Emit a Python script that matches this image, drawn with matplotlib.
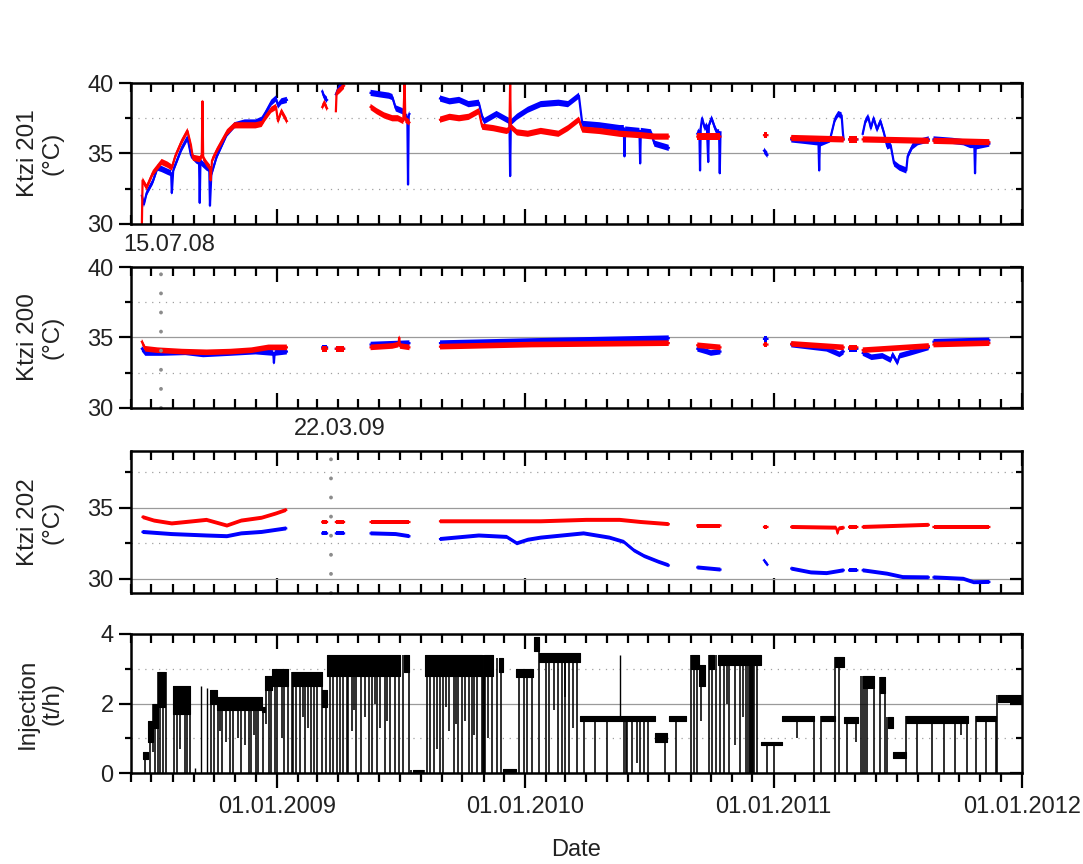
import numpy as np
import matplotlib
matplotlib.use("Agg")
import matplotlib.pyplot as plt
import matplotlib.dates as mdates
from matplotlib.ticker import FixedLocator

plt.rcParams['font.family'] = ['Liberation Sans', 'DejaVu Sans']
plt.rcParams['text.color'] = '#222222'
plt.rcParams['xtick.labelcolor'] = '#222222'
plt.rcParams['ytick.labelcolor'] = '#222222'

# ---------------- data ----------------
K201_RED = [
    ("2008-06-17", 30.0), ("2008-06-18", 33.1), ("2008-06-24", 32.6), ("2008-07-03", 33.6), ("2008-07-16", 34.4),
    ("2008-07-25", 34.2), ("2008-07-31", 34.0), ("2008-08-05", 34.8), ("2008-08-14", 35.8), ("2008-08-23", 36.6),
    ("2008-08-28", 35.6), ("2008-08-31", 34.7), ("2008-09-10", 34.6), ("2008-09-13", 34.8), ("2008-09-14", 38.7),
    ("2008-09-15", 34.7), ("2008-09-20", 34.3), ("2008-09-25", 34.0), ("2008-09-26", 33.1), ("2008-09-28", 34.5),
    ("2008-10-05", 35.2), ("2008-10-20", 36.5), ("2008-10-31", 37.0), ("2008-11-15", 37.0), ("2008-12-01", 37.0),
    ("2008-12-10", 37.1), ("2008-12-15", 37.5), ("2008-12-24", 38.1), ("2008-12-31", 38.3), ("2009-01-03", 37.3),
    ("2009-01-08", 38.0), ("2009-01-16", 37.3), None,
    ("2009-03-09", 38.3), ("2009-03-12", 38.6), ("2009-03-16", 38.2), None,
    ("2009-03-29", 38.0), ("2009-03-30", 39.3), ("2009-04-04", 39.5), ("2009-04-10", 39.8), None,
    ("2009-05-19", 38.3), ("2009-05-28", 38.0), ("2009-06-08", 37.7), ("2009-06-20", 37.5), ("2009-06-28", 37.5),
    ("2009-07-06", 37.3), ("2009-07-08", 40.0), ("2009-07-09", 37.4), ("2009-07-15", 37.2), None,
    ("2009-08-29", 37.4), ("2009-09-12", 37.6), ("2009-09-26", 37.5), ("2009-10-10", 37.6), ("2009-10-25", 38.0),
    ("2009-10-30", 36.9), ("2009-11-15", 36.8), ("2009-12-05", 36.6), ("2009-12-09", 36.7), ("2009-12-10", 40.0),
    ("2009-12-11", 36.9), ("2009-12-20", 36.5), ("2010-01-05", 36.4), ("2010-01-24", 36.6), ("2010-02-19", 36.4),
    ("2010-03-05", 36.8), ("2010-03-21", 37.4), ("2010-03-26", 36.7), ("2010-04-20", 36.6), ("2010-05-20", 36.4),
    ("2010-06-20", 36.3), ("2010-07-10", 36.2), ("2010-07-31", 36.2), None,
    ("2010-09-11", 36.2), ("2010-10-15", 36.2), None,
    ("2010-12-18", 36.3), ("2010-12-23", 36.3), None,
    ("2011-01-27", 36.1), ("2011-04-14", 36.0), None,
    ("2011-04-22", 36.0), ("2011-05-04", 36.0), None,
    ("2011-05-12", 36.0), ("2011-08-17", 35.9), None,
    ("2011-08-24", 35.9), ("2011-11-14", 35.8),
]
K201_BLUE = [
    ("2008-06-17", 32.0), ("2008-06-20", 31.4), ("2008-06-24", 32.2), ("2008-07-03", 33.0), ("2008-07-10", 34.0),
    ("2008-07-16", 33.9), ("2008-07-25", 33.7), ("2008-07-30", 33.6), ("2008-07-31", 32.2), ("2008-08-02", 33.8),
    ("2008-08-14", 35.3), ("2008-08-23", 36.1), ("2008-08-28", 34.9), ("2008-09-05", 34.5), ("2008-09-09", 34.4),
    ("2008-09-10", 31.5), ("2008-09-11", 34.4), ("2008-09-20", 34.0), ("2008-09-24", 33.9), ("2008-09-25", 31.3),
    ("2008-09-27", 33.5), ("2008-10-05", 34.8), ("2008-10-20", 36.4), ("2008-10-31", 37.0), ("2008-11-15", 37.2),
    ("2008-12-01", 37.2), ("2008-12-10", 37.4), ("2008-12-15", 37.8), ("2008-12-24", 38.6), ("2008-12-31", 38.9),
    ("2009-01-03", 38.4), ("2009-01-08", 38.7), ("2009-01-16", 38.8), None,
    ("2009-03-09", 39.4), ("2009-03-12", 39.0), ("2009-03-16", 38.8), None,
    ("2009-03-29", 39.2), ("2009-04-04", 39.8), ("2009-04-10", 40.0), None,
    ("2009-05-19", 39.3), ("2009-06-01", 39.2), ("2009-06-15", 39.1), ("2009-06-20", 39.0), ("2009-06-25", 38.2),
    ("2009-07-05", 38.0), ("2009-07-10", 37.6), ("2009-07-12", 37.6), ("2009-07-13", 32.8), ("2009-07-14", 37.7),
    ("2009-07-15", 37.8), None,
    ("2009-08-29", 38.9), ("2009-09-12", 38.7), ("2009-09-26", 38.8), ("2009-10-10", 38.5), ("2009-10-25", 38.6),
    ("2009-10-30", 37.6), ("2009-11-02", 37.3), ("2009-11-20", 37.8), ("2009-12-05", 37.4), ("2009-12-09", 37.3),
    ("2009-12-10", 33.4), ("2009-12-11", 37.2), ("2009-12-20", 37.6), ("2010-01-05", 38.1), ("2010-01-24", 38.5),
    ("2010-02-19", 38.6), ("2010-03-05", 38.5), ("2010-03-21", 39.1), ("2010-03-26", 37.1), ("2010-04-20", 37.0),
    ("2010-05-20", 36.8), ("2010-05-26", 36.8), ("2010-05-27", 34.8), ("2010-05-28", 36.7), ("2010-06-18", 36.6),
    ("2010-06-19", 34.3), ("2010-06-20", 36.6), ("2010-07-05", 36.5), ("2010-07-10", 35.7), ("2010-07-31", 35.4), None,
    ("2010-09-11", 36.4), ("2010-09-14", 36.6), ("2010-09-15", 33.8), ("2010-09-16", 36.8), ("2010-09-18", 37.5),
    ("2010-09-22", 36.8), ("2010-09-25", 37.0), ("2010-09-27", 34.4), ("2010-09-28", 37.0), ("2010-10-02", 37.5),
    ("2010-10-07", 36.8), ("2010-10-10", 36.5), ("2010-10-13", 36.5), ("2010-10-14", 33.6), ("2010-10-15", 36.5), None,
    ("2010-12-18", 35.2), ("2010-12-23", 34.9), None,
    ("2011-01-27", 36.0), ("2011-02-15", 35.9), ("2011-03-05", 35.8), ("2011-03-08", 35.8), ("2011-03-09", 33.8),
    ("2011-03-10", 35.7), ("2011-03-25", 36.0), ("2011-04-01", 37.4), ("2011-04-06", 37.8), ("2011-04-11", 37.7),
    ("2011-04-13", 36.4), ("2011-04-14", 36.0), None,
    ("2011-04-22", 36.0), ("2011-05-04", 36.0), None,
    ("2011-05-12", 36.4), ("2011-05-16", 37.3), ("2011-05-20", 37.6), ("2011-05-24", 36.8), ("2011-05-28", 37.5),
    ("2011-06-02", 36.7), ("2011-06-07", 37.3), ("2011-06-12", 36.5), ("2011-06-17", 35.5), ("2011-06-22", 35.6),
    ("2011-06-27", 34.3), ("2011-07-05", 34.0), ("2011-07-15", 33.8), ("2011-07-17", 34.8), ("2011-07-24", 35.5),
    ("2011-08-01", 35.8), ("2011-08-17", 36.0), None,
    ("2011-08-24", 36.0), ("2011-09-20", 35.9), ("2011-10-07", 35.8), ("2011-10-17", 35.6), ("2011-10-23", 35.6),
    ("2011-10-24", 33.6), ("2011-10-25", 35.5), ("2011-11-14", 35.7),
]
K200_RED = [
    ("2008-06-17", 34.7), ("2008-06-22", 34.2), ("2008-07-10", 34.1), ("2008-08-15", 34.0), ("2008-09-20", 33.95),
    ("2008-10-25", 34.0), ("2008-11-25", 34.1), ("2008-12-20", 34.3), ("2009-01-16", 34.3), None,
    ("2009-03-09", 34.2), ("2009-03-16", 34.2), None, ("2009-03-29", 34.2), ("2009-04-10", 34.2), None,
    ("2009-05-19", 34.3), ("2009-06-20", 34.4), ("2009-06-29", 34.5), ("2009-06-30", 35.0), ("2009-07-01", 34.4),
    ("2009-07-15", 34.3), None,
    ("2009-08-29", 34.35), ("2010-01-10", 34.5), ("2010-07-31", 34.6), None,
    ("2010-09-11", 34.45), ("2010-10-15", 34.3), None,
    ("2010-12-18", 34.5), ("2010-12-23", 34.5), None,
    ("2011-01-27", 34.55), ("2011-04-14", 34.3), None,
    ("2011-04-22", 34.3), ("2011-05-04", 34.3), None,
    ("2011-05-12", 34.1), ("2011-08-17", 34.4), None,
    ("2011-08-24", 34.5), ("2011-11-14", 34.6),
]
K200_BLUE = [
    ("2008-06-17", 34.2), ("2008-06-22", 33.9), ("2008-07-16", 33.9), ("2008-08-20", 33.95), ("2008-09-15", 33.8),
    ("2008-10-25", 33.9), ("2008-12-01", 34.0), ("2008-12-27", 33.9), ("2008-12-28", 33.2), ("2008-12-29", 33.9),
    ("2009-01-16", 34.0), None,
    ("2009-03-09", 34.3), ("2009-03-16", 34.3), None, ("2009-03-29", 34.2), ("2009-04-10", 34.2), None,
    ("2009-05-19", 34.5), ("2009-07-15", 34.6), None,
    ("2009-08-29", 34.6), ("2010-01-10", 34.75), ("2010-07-31", 34.95), None,
    ("2010-09-11", 34.2), ("2010-09-25", 34.0), ("2010-10-01", 33.9), ("2010-10-15", 34.0), None,
    ("2010-12-18", 34.9), ("2010-12-23", 34.9), None,
    ("2011-01-27", 34.5), ("2011-03-20", 34.2), ("2011-04-08", 33.8), ("2011-04-14", 34.0), None,
    ("2011-04-22", 34.2), ("2011-05-04", 34.2), None,
    ("2011-05-12", 33.9), ("2011-05-25", 33.6), ("2011-06-10", 33.7), ("2011-06-22", 33.4), ("2011-06-25", 33.8),
    ("2011-07-02", 33.2), ("2011-07-05", 33.7), ("2011-07-20", 33.9), ("2011-08-17", 34.3), None,
    ("2011-08-24", 34.7), ("2011-11-14", 34.8),
]
K202_RED = [
    ("2008-06-18", 34.35), ("2008-07-05", 34.1), ("2008-07-31", 33.9), ("2008-08-31", 34.05), ("2008-09-20", 34.15),
    ("2008-10-20", 33.75), ("2008-11-10", 34.1), ("2008-12-10", 34.3), ("2008-12-31", 34.6), ("2009-01-15", 34.85), None,
    ("2009-03-09", 34.0), ("2009-03-16", 34.0), None, ("2009-03-29", 34.0), ("2009-04-10", 34.0), None,
    ("2009-05-19", 34.0), ("2009-07-15", 34.0), None,
    ("2009-08-29", 34.05), ("2010-01-24", 34.05), ("2010-04-01", 34.15), ("2010-05-20", 34.15), ("2010-06-20", 34.0),
    ("2010-07-31", 33.85), None,
    ("2010-09-11", 33.75), ("2010-10-15", 33.75), None,
    ("2010-12-18", 33.65), ("2010-12-23", 33.65), None,
    ("2011-01-27", 33.65), ("2011-04-03", 33.6), ("2011-04-05", 33.2), ("2011-04-07", 33.55), ("2011-04-14", 33.6), None,
    ("2011-04-22", 33.65), ("2011-05-04", 33.65), None,
    ("2011-05-12", 33.65), ("2011-08-17", 33.8), None,
    ("2011-08-24", 33.65), ("2011-11-14", 33.65),
]
K202_BLUE = [
    ("2008-06-18", 33.3), ("2008-07-31", 33.15), ("2008-09-20", 33.05), ("2008-10-20", 33.0), ("2008-11-10", 33.2),
    ("2008-12-10", 33.3), ("2009-01-15", 33.55), None,
    ("2009-03-09", 33.2), ("2009-03-16", 33.2), None, ("2009-03-29", 33.2), ("2009-04-10", 33.2), None,
    ("2009-05-19", 33.2), ("2009-06-25", 33.15), ("2009-07-15", 33.0), None,
    ("2009-08-29", 32.8), ("2009-10-25", 33.05), ("2009-12-05", 32.95), ("2009-12-20", 32.5), ("2010-01-05", 32.75),
    ("2010-01-24", 32.9), ("2010-03-28", 33.2), ("2010-05-05", 32.9), ("2010-05-26", 32.6), ("2010-06-10", 32.0),
    ("2010-06-25", 31.6), ("2010-07-16", 31.2), ("2010-07-31", 30.95), None,
    ("2010-09-11", 30.8), ("2010-10-15", 30.65), None,
    ("2010-12-18", 31.3), ("2010-12-23", 31.0), None,
    ("2011-01-27", 30.72), ("2011-02-25", 30.45), ("2011-03-20", 30.4), ("2011-04-14", 30.6), None,
    ("2011-04-22", 30.6), ("2011-05-04", 30.6), None,
    ("2011-05-12", 30.6), ("2011-06-17", 30.36), ("2011-07-10", 30.12), ("2011-08-17", 30.1), None,
    ("2011-08-24", 30.1), ("2011-10-07", 30.0), ("2011-10-22", 29.76), ("2011-11-14", 29.78),
]

# injection: operating plateaus (start, end, low, high) in t/h
INJ_BAND_START = ["2008-06-18", "2008-06-26", "2008-07-03", "2008-07-10", "2008-08-01", "2008-09-25", "2008-10-05",
                  "2008-12-10", "2008-12-15", "2008-12-25", "2009-01-24", "2009-03-09", "2009-03-16", "2009-07-07",
                  "2009-07-20", "2009-08-07", "2009-11-01", "2009-11-23", "2009-11-30", "2009-12-18", "2010-01-14",
                  "2010-01-21", "2010-03-23", "2010-07-11", "2010-07-31", "2010-09-01", "2010-09-13", "2010-09-28",
                  "2010-10-12", "2010-12-13", "2011-01-14", "2011-03-11", "2011-04-01", "2011-04-14", "2011-05-12",
                  "2011-06-07", "2011-06-18", "2011-06-25", "2011-07-14", "2011-10-25", "2011-11-27"]
INJ_BAND_END = ["2008-06-26", "2008-07-03", "2008-07-10", "2008-07-21", "2008-08-26", "2008-10-05", "2008-12-10",
                "2008-12-15", "2008-12-25", "2009-01-18", "2009-03-09", "2009-03-16", "2009-07-01", "2009-07-15",
                "2009-08-04", "2009-10-30", "2009-11-15", "2009-11-30", "2009-12-18", "2010-01-12", "2010-01-21",
                "2010-03-23", "2010-07-11", "2010-07-29", "2010-08-25", "2010-09-13", "2010-09-23", "2010-10-05",
                "2010-12-13", "2011-01-14", "2011-03-01", "2011-04-01", "2011-04-14", "2011-05-05", "2011-05-28",
                "2011-06-13", "2011-06-25", "2011-07-14", "2011-10-13", "2011-11-24", "2012-01-01"]
INJ_BAND_LOW = [0.40, 0.90, 1.30, 1.90, 1.70, 2.00, 1.80, 1.75, 2.40, 2.50, 2.50, 1.90, 2.80, 2.90, 0.02, 2.80, 2.80,
                2.90, 0.02, 2.75, 3.50, 3.20, 1.50, 0.90, 1.50, 3.00, 2.50, 3.00, 3.10, 0.80, 1.50, 1.50, 3.05, 1.45,
                2.45, 2.30, 1.30, 0.42, 1.45, 1.50, 2.05]
INJ_BAND_HIGH = [0.60, 1.50, 2.00, 2.90, 2.50, 2.40, 2.20, 1.90, 2.80, 3.00, 2.90, 2.40, 3.40, 3.40, 0.10, 3.40, 3.40,
                 3.30, 0.12, 3.00, 3.90, 3.45, 1.65, 1.15, 1.65, 3.40, 3.10, 3.40, 3.40, 0.88, 1.65, 1.65, 3.35, 1.60,
                 2.80, 2.75, 1.60, 0.60, 1.65, 1.65, 2.25]

# short interruptions that fall to zero
INJ_DROP_DATES = [
    "2008-06-22", "2008-06-29", "2008-07-06", "2008-07-11", "2008-07-14", "2008-07-18", "2008-07-22",
    "2008-08-03", "2008-08-07", "2008-08-20", "2008-08-22", "2008-08-27",
    "2008-09-26", "2008-10-01", "2008-10-07", "2008-10-13", "2008-10-24", "2008-10-29", "2008-11-10", "2008-11-21",
    "2008-11-25", "2008-12-01", "2008-12-05", "2008-12-12", "2008-12-21", "2008-12-23", "2008-12-29",
    "2009-01-02", "2009-01-12", "2009-01-18", "2009-01-23", "2009-01-25", "2009-01-30", "2009-02-04", "2009-02-12",
    "2009-02-21", "2009-02-25", "2009-03-01", "2009-03-08", "2009-03-15", "2009-03-20", "2009-03-25", "2009-03-30",
    "2009-04-04", "2009-04-09", "2009-04-14", "2009-04-16", "2009-04-28", "2009-05-05", "2009-05-16", "2009-05-21",
    "2009-05-28", "2009-06-09", "2009-06-17", "2009-06-24", "2009-06-29", "2009-07-06", "2009-07-14", "2009-07-18",
    "2009-08-05", "2009-08-10", "2009-08-15", "2009-08-20", "2009-08-29", "2009-09-03", "2009-09-18", "2009-09-25",
    "2009-09-30", "2009-10-10", "2009-10-15", "2009-10-22", "2009-10-30", "2009-10-31", "2009-11-01", "2009-11-02",
    "2009-11-03", "2009-11-14", "2009-11-21", "2009-11-26",
    "2009-12-23", "2009-12-30", "2010-01-04", "2010-01-11", "2010-01-21", "2010-01-31", "2010-02-05", "2010-02-19",
    "2010-02-24", "2010-03-01", "2010-03-06", "2010-03-18",
    "2010-03-28", "2010-04-14", "2010-05-01", "2010-05-27", "2010-05-29", "2010-05-31", "2010-06-07", "2010-06-19",
    "2010-06-24", "2010-07-01", "2010-07-26", "2010-08-10",
    "2010-09-02", "2010-09-06", "2010-09-11", "2010-09-28", "2010-10-03", "2010-10-08", "2010-10-15", "2010-10-20",
    "2010-10-28", "2010-11-13", "2010-11-21", "2010-11-25", "2010-11-27", "2010-11-28", "2010-11-29", "2010-11-30",
    "2010-12-01", "2010-12-02", "2010-12-03", "2010-12-07", "2010-12-23", "2011-01-01",
    "2011-03-01", "2011-03-11", "2011-04-02", "2011-04-07", "2011-04-19", "2011-05-09", "2011-05-12", "2011-05-15",
    "2011-05-18", "2011-05-28", "2011-06-07", "2011-06-13", "2011-06-16", "2011-07-15", "2011-07-31", "2011-08-22",
    "2011-09-08", "2011-09-25", "2011-10-12", "2011-10-25", "2011-11-09", "2011-11-24", "2011-11-26",
]
# interruptions that only fall part of the way
INJ_PARTIAL_DATES = ["2008-07-04", "2008-08-12", "2008-10-10", "2008-10-19", "2008-11-05", "2008-11-16", "2008-11-28",
                     "2008-12-17", "2009-01-09", "2009-02-08", "2009-02-16", "2009-04-21", "2009-04-25", "2009-05-11",
                     "2009-05-25", "2009-06-02", "2009-06-12", "2009-08-24", "2009-09-07", "2009-09-11", "2009-09-21",
                     "2009-10-05", "2009-10-18", "2009-11-08", "2010-02-12", "2010-02-28", "2010-03-13", "2010-06-14",
                     "2010-09-17", "2010-10-24", "2010-11-06", "2010-11-17", "2011-02-05", "2011-05-02", "2011-10-04"]
INJ_PARTIAL_BOTTOM = [0.6, 0.7, 1.2, 0.9, 1.0, 0.8, 1.1, 1.4, 1.0, 1.6, 1.3, 1.2, 1.8, 1.6, 2.0, 1.3, 1.5, 0.7, 1.9,
                      1.2, 1.4, 1.5, 1.1, 1.0, 1.8, 2.2, 1.3, 0.3, 1.5, 2.0, 0.8, 1.6, 1.0, 0.9, 1.1]
# isolated short peaks (date, base, top)
INJ_SPIKE_DATES = ["2008-09-03", "2008-09-12", "2008-09-20", "2010-05-21"]
INJ_SPIKE_BASE = [0.0, 0.0, 0.0, 1.65]
INJ_SPIKE_TOP = [0.15, 2.5, 2.45, 3.4]

MARK_201_200 = "2008-07-15"
MARK_202 = "2009-03-22"
X_RANGE = ("2008-06-01", "2012-01-01")


# ---------------- helpers ----------------
def series(pairs):
    d, v = [], []
    for p in pairs:
        if p is None:
            d.append(d[-1] + np.timedelta64(1, 'D'))
            v.append(np.nan)
        else:
            d.append(np.datetime64(p[0], 'D'))
            v.append(float(p[1]))
    return np.array(d), np.array(v)


def draw_temp(ax, pairs, color, half):
    d, v = series(pairs)
    ax.fill_between(d, v - half, v + half, color=color, lw=0, zorder=3)
    ax.plot(d, v, color=color, lw=1.6, zorder=3)


XMIN = np.datetime64(X_RANGE[0])
XMAX = np.datetime64(X_RANGE[1])
TXT = '#222222'
FS = 17

fig = plt.figure(figsize=(10.83, 8.64), dpi=100)
FW, FH = 1083.0, 864.0
L, R = 131, 1022
tops = [83, 267, 451, 634]
hs = [141, 141, 142, 139]
axes = [fig.add_axes([L / FW, 1 - (t + h) / FH, (R - L) / FW, h / FH]) for t, h in zip(tops, hs)]


def style(ax, ylim, major, minor, xlabels):
    ax.set_xlim(XMIN, XMAX)
    ax.set_ylim(*ylim)
    tw = ax.twinx()
    tw.set_ylim(*ylim)
    for a in (ax, tw):
        a.yaxis.set_major_locator(FixedLocator(major))
        a.yaxis.set_minor_locator(FixedLocator(minor))
    for s in tw.spines.values():
        s.set_visible(False)
    for s in ax.spines.values():
        s.set_linewidth(1.8)
        s.set_zorder(6)
    ax.tick_params(axis='y', which='major', direction='out', length=8.6, width=1.6, labelsize=FS, pad=4,
                   left=True, right=False)
    ax.tick_params(axis='y', which='minor', direction='out', length=4, width=1.6, left=True, right=False)
    tw.tick_params(axis='y', which='major', direction='in', length=8.6, width=1.6, labelright=False,
                   right=True, left=False)
    tw.tick_params(axis='y', which='minor', direction='in', length=4, width=1.6, right=True, left=False)
    ax.xaxis.set_major_locator(mdates.YearLocator())
    ax.xaxis.set_minor_locator(mdates.MonthLocator())
    ax.yaxis.grid(True, which='major', color='#9a9a9a', lw=0.9)
    ax.yaxis.grid(True, which='minor', color='#a0a0a0', lw=0.9, ls=(0, (1, 4.5)))
    if not xlabels:
        ax.tick_params(axis='x', which='major', direction='in', length=10.8, width=1.6, top=True, bottom=True,
                       labelbottom=False)
        ax.tick_params(axis='x', which='minor', direction='in', length=6.5, width=1.6, top=True, bottom=True)
    else:
        ax.tick_params(axis='x', which='major', direction='out', length=10.8, width=1.6, top=False, bottom=True,
                       labelsize=FS, pad=6)
        ax.tick_params(axis='x', which='minor', direction='out', length=6.5, width=1.6, top=False, bottom=True)
        ax.xaxis.set_major_formatter(mdates.DateFormatter('%d.%m.%Y'))
        tx = ax.twiny()
        tx.set_xlim(mdates.date2num(XMIN), mdates.date2num(XMAX))
        tx.xaxis.set_major_locator(mdates.YearLocator())
        tx.xaxis.set_minor_locator(mdates.MonthLocator())
        for s in tx.spines.values():
            s.set_visible(False)
        tx.tick_params(axis='x', which='major', direction='in', length=10.8, width=1.6, top=True, bottom=False,
                       labeltop=False)
        tx.tick_params(axis='x', which='minor', direction='in', length=6.5, width=1.6, top=True, bottom=False)
    return tw


ylabels = ["Ktzi 201\n(°C)", "Ktzi 200\n(°C)", "Ktzi 202\n(°C)", "Injection\n(t/h)"]
temp_data = [(K201_BLUE, K201_RED), (K200_BLUE, K200_RED), (K202_BLUE, K202_RED)]
ylims = [(30, 40), (30, 40), (29, 39), (0, 4)]
majors = [[30, 35, 40], [30, 35, 40], [30, 35], [0, 2, 4]]
minors = [[32.5, 37.5], [32.5, 37.5], [32.5, 37.5], [1, 3]]
halfwidths = [0.22, 0.2, 0.14]

for i, ax in enumerate(axes):
    style(ax, ylims[i], majors[i], minors[i], xlabels=(i == 3))
    ax.set_ylabel(ylabels[i], fontsize=FS + 0.5, linespacing=1.15, color=TXT)
    ax.yaxis.label.set_va('center')
    ax.yaxis.set_label_coords(-0.102, 0.5)

for ax, (blue, red), hw in zip(axes[:3], temp_data, halfwidths):
    draw_temp(ax, blue, '#0000ff', hw)
    draw_temp(ax, red, '#ff0000', hw)

# injection
ax4 = axes[3]
bs = np.array(INJ_BAND_START, dtype='datetime64[D]')
be = np.array(INJ_BAND_END, dtype='datetime64[D]')
blo = np.array(INJ_BAND_LOW)
bhi = np.array(INJ_BAND_HIGH)
for s, e, lo, hi in zip(bs, be, blo, bhi):
    ax4.fill_between([s, e], [lo, lo], [hi, hi], color='black', lw=0.8, zorder=3)


def band_top(d):
    inside = (bs <= d) & (be >= d)
    if inside.any():
        return bhi[inside].max()
    dist = np.minimum(np.abs((bs - d).astype(int)), np.abs((be - d).astype(int)))
    return bhi[np.argmin(dist)]


dd = np.array(INJ_DROP_DATES, dtype='datetime64[D]')
ax4.vlines(dd, 0, [band_top(d) for d in dd], color='black', lw=1.15, zorder=3)
pd_ = np.array(INJ_PARTIAL_DATES, dtype='datetime64[D]')
ax4.vlines(pd_, INJ_PARTIAL_BOTTOM, [band_top(d) for d in pd_], color='black', lw=1.15, zorder=3)
sd = np.array(INJ_SPIKE_DATES, dtype='datetime64[D]')
ax4.vlines(sd, INJ_SPIKE_BASE, INJ_SPIKE_TOP, color='black', lw=1.0, zorder=3)

ax4.set_xlabel('Date', fontsize=FS, color=TXT)
ax4.xaxis.label.set_va('center')
ax4.xaxis.set_label_coords(0.5, -0.554)

# event markers
for ax, date, ylim in ((axes[1], MARK_201_200, ylims[1]), (axes[2], MARK_202, ylims[2])):
    d = np.datetime64(date)
    ax.plot([d, d], list(ylim), color='#8c8c8c', lw=2.8, ls=(0, (0.01, 4.9)),
            dash_capstyle='round', zorder=5, clip_on=False)
    lab = np.datetime_as_string(d).split('-')
    ax.annotate(f"{lab[2]}.{lab[1]}.{lab[0][2:]}", xy=(d, 1.0), xycoords=('data', 'axes fraction'),
                xytext=(6, 16), textcoords='offset points', ha='center', va='center', fontsize=FS, color=TXT)

fig.savefig('out.png', dpi=100)
